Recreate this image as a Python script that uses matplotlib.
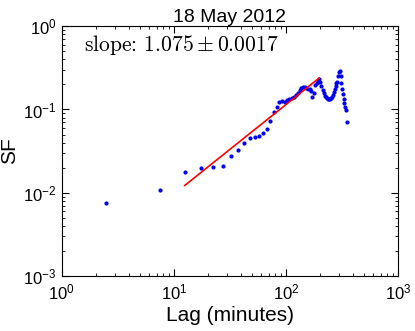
import numpy as np
import matplotlib
matplotlib.use("Agg")
import matplotlib.pyplot as plt

plt.rcParams['font.family'] = ['Liberation Sans', 'DejaVu Sans']
plt.rcParams['mathtext.fontset'] = 'custom'
plt.rcParams['mathtext.rm'] = 'Liberation Sans'
plt.rcParams['mathtext.it'] = 'Liberation Sans:italic'
plt.rcParams['mathtext.bf'] = 'Liberation Sans:bold'

# structure function, lag in minutes
lag = [2.5, 7.5, 12.5, 17.5, 22.5, 27.5, 32.5, 37.5, 42.5, 47.5,
       52.5, 57.5, 62.5, 67.5, 72.5, 77.5, 82.5, 87.5, 92.5, 97.5,
       102.5, 107.5, 112.5, 117.5, 122.5, 127.5, 132.5, 137.5, 142.5, 147.5,
       152.5, 157.5, 162.5, 167.5, 172.5, 177.5, 182.5, 187.5, 192.5, 197.5,
       202.5, 207.5, 212.5, 217.5, 222.5, 227.5, 232.5, 237.5, 242.5, 247.5,
       252.5, 257.5, 262.5, 267.5, 272.5, 277.5, 282.5, 287.5, 292.5, 297.5,
       302.5, 307.5, 312.5, 317.5, 322.5, 327.5, 332.5, 337.5, 342.5, 347.5]
sf = [0.0075, 0.0107, 0.0177, 0.0198, 0.0201, 0.0209, 0.028, 0.033, 0.0394, 0.0452,
      0.0465, 0.0486, 0.0527, 0.0584, 0.0735, 0.094, 0.106, 0.123, 0.125, 0.124,
      0.129, 0.133, 0.137, 0.142, 0.150, 0.158, 0.170, 0.180, 0.186, 0.186,
      0.180, 0.178, 0.176, 0.165, 0.142, 0.159, 0.197, 0.205, 0.222, 0.230,
      0.215, 0.190, 0.170, 0.157, 0.147, 0.141, 0.137, 0.135, 0.134, 0.135,
      0.138, 0.143, 0.150, 0.160, 0.175, 0.190, 0.205, 0.216, 0.250, 0.284,
      0.289, 0.250, 0.210, 0.178, 0.155, 0.135, 0.118, 0.106, 0.098, 0.070]

# power-law fit
slope = 1.075
slope_err = 0.0017
amp = 8.1e-4
fit_range = [12.5, 197.5]

fig = plt.figure(figsize=(4.15, 3.31), dpi=100)
ax = fig.add_axes([0.149, 0.166, 0.810, 0.755])

ax.plot(lag, sf, '.', color='#0000ee', markersize=4)
fx = np.array(fit_range)
ax.plot(fx, amp * fx**slope, 'r-', linewidth=1.2)

ax.set_xscale('log')
ax.set_yscale('log')
ax.set_xlim(1, 1000)
ax.set_ylim(1e-3, 1)

ax.tick_params(which='both', direction='in', top=True, right=True, labelsize=12)
ax.tick_params(axis='x', pad=5)
ax.tick_params(axis='y', pad=4)
ax.tick_params(which='major', length=5)
ax.tick_params(which='minor', length=2.5)

ax.set_xlabel('Lag (minutes)', fontsize=15, labelpad=2)
ax.set_ylabel('SF', fontsize=15, labelpad=3)
ax.set_title('18 May 2012', fontsize=14, pad=3)

ax.text(0.065, 0.925, r'slope: $%.3f \pm %.4f$' % (slope, slope_err),
        transform=ax.transAxes, fontsize=15.5, family='cmr10',
        math_fontfamily='cm', va='center', ha='left')

fig.savefig('out.png', dpi=100)
